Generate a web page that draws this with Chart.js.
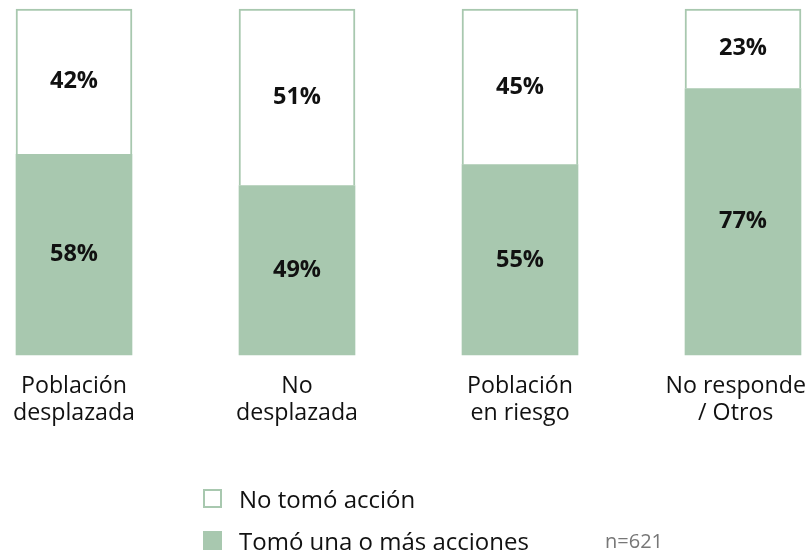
<!DOCTYPE html>
<html lang="es">
<head>
<meta charset="utf-8">
<title>Acciones tomadas por grupo de población</title>
<script src="https://cdn.jsdelivr.net/npm/chart.js@4.4.1/dist/chart.umd.min.js"></script>
<style>
  html, body { margin: 0; padding: 0; background: #ffffff; }
  #wrap { position: relative; width: 809px; height: 555px; overflow: hidden; }
  #chart { position: absolute; left: 0; top: 0; }
  #legend { position: absolute; left: 203px; top: 484px; font-family: "Open Sans", sans-serif; font-size: 24px; color: #111; }
  .item { display: flex; align-items: center; height: 28px; margin-bottom: 14px; white-space: nowrap; }
  .box { width: 19px; height: 19px; box-sizing: border-box; margin-right: 17px; flex: none; }
  #note { position: absolute; left: 605px; top: 527px; font-family: "Open Sans", sans-serif; font-size: 20px; color: #777; }
</style>
</head>
<body>
<div id="wrap">
  <canvas id="chart" width="809" height="555"></canvas>
  <div id="legend"></div>
  <div id="note">n=621</div>
</div>
<script>
// Groups along the x axis (each label split into its two printed lines)
const categories = [
  ["Población", "desplazada"],
  ["No", "desplazada"],
  ["Población", "en riesgo"],
  ["No responde", "/ Otros"]
];
// Share of each group, in percent
const tookAction = [58, 49, 55, 77];
const noAction   = [42, 51, 45, 23];
const seriesNames = ["Tomó una o más acciones", "No tomó acción"];

const GREEN = "#a8c8af";
const FONT = "'Open Sans', sans-serif";

// Percent labels centred inside each bar segment
const segmentLabels = {
  id: "segmentLabels",
  afterDatasetsDraw(chart) {
    const ctx = chart.ctx;
    ctx.save();
    ctx.font = "bold 23.5px " + FONT;
    ctx.fillStyle = "#111";
    ctx.textAlign = "center";
    ctx.textBaseline = "middle";
    chart.data.datasets.forEach((ds, di) => {
      chart.getDatasetMeta(di).data.forEach((bar, i) => {
        const p = bar.getProps(["x", "y", "base"], true);
        ctx.fillText(ds.data[i] + "%", p.x, (p.y + p.base) / 2);
      });
    });
    ctx.restore();
  }
};

// Category names below the bars, placed from the x scale and kept inside the canvas
const categoryLabels = {
  id: "categoryLabels",
  afterDraw(chart) {
    const ctx = chart.ctx;
    const xs = chart.scales.x;
    ctx.save();
    ctx.font = "23.2px " + FONT;
    ctx.fillStyle = "#111";
    ctx.textAlign = "center";
    ctx.textBaseline = "middle";
    categories.forEach((lines, i) => {
      let cx = xs.getPixelForValue(i);
      const w = Math.max(...lines.map(t => ctx.measureText(t).width));
      const limit = chart.width - 3;
      if (cx + w / 2 > limit) cx = limit - w / 2;
      lines.forEach((t, li) => ctx.fillText(t, cx, 386 + li * 27));
    });
    ctx.restore();
  }
};

const chart = new Chart(document.getElementById("chart"), {
  type: "bar",
  data: {
    labels: categories.map(l => l.join(" ")),
    datasets: [
      {
        label: seriesNames[0],
        data: tookAction,
        backgroundColor: GREEN,
        borderWidth: 0,
        barThickness: 116,
        clip: false
      },
      {
        label: seriesNames[1],
        data: noAction,
        backgroundColor: "#ffffff",
        borderColor: GREEN,
        borderWidth: { top: 2, left: 2, right: 2, bottom: 0 },
        borderSkipped: false,
        barThickness: 116,
        clip: false
      }
    ]
  },
  options: {
    responsive: false,
    animation: false,
    layout: { padding: { left: 74, right: 66, top: 9, bottom: 200 } },
    scales: {
      x: { stacked: true, offset: false, display: false, grid: { display: false } },
      y: { stacked: true, min: 0, max: 100, display: false, grid: { display: false } }
    },
    plugins: {
      legend: { display: false },
      tooltip: { enabled: false }
    }
  },
  plugins: [segmentLabels, categoryLabels]
});

// Legend listing the series, white box first
const legend = document.getElementById("legend");
[1, 0].forEach(di => {
  const ds = chart.data.datasets[di];
  const item = document.createElement("div");
  item.className = "item";
  const box = document.createElement("span");
  box.className = "box";
  box.style.background = ds.backgroundColor;
  box.style.border = "2px solid " + GREEN;
  const txt = document.createElement("span");
  txt.textContent = ds.label;
  item.appendChild(box);
  item.appendChild(txt);
  legend.appendChild(item);
});
</script>
</body>
</html>
